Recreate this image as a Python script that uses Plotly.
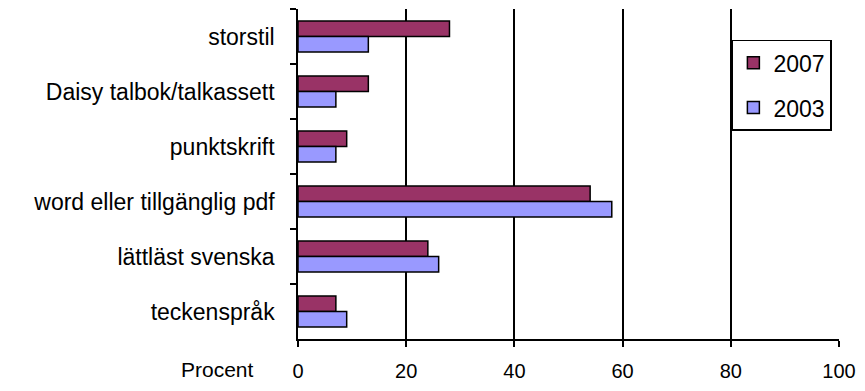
import plotly.graph_objects as go

# Categories, listed top to bottom
categories = [
    "storstil",
    "Daisy talbok/talkassett",
    "punktskrift",
    "word eller tillgänglig pdf",
    "lättläst svenska",
    "teckenspråk",
]
values_2007 = [28, 13, 9, 54, 24, 7]
values_2003 = [13, 7, 7, 58, 26, 9]
x_ticks = [0, 20, 40, 60, 80, 100]

font_family = "Liberation Sans, Arial, sans-serif"

fig = go.Figure()
# The y axis is reversed, so the first trace sits on top within each group
fig.add_trace(go.Bar(
    y=categories, x=values_2007, name="2007", orientation="h",
    marker=dict(color="#993366", line=dict(color="black", width=1.5)),
    legendgroup="a",
))
fig.add_trace(go.Bar(
    y=categories, x=values_2003, name="2003", orientation="h",
    marker=dict(color="#9999FF", line=dict(color="black", width=1.5)),
    legendgroup="b",
))

fig.update_layout(
    width=865, height=391,
    margin=dict(l=298, r=22, t=9, b=49),
    paper_bgcolor="white", plot_bgcolor="white",
    barmode="group", bargap=0.44, bargroupgap=0,
    font=dict(family=font_family, size=20, color="black"),
    showlegend=True,
    legend=dict(
        x=0.802, y=0.907, xanchor="left", yanchor="top",
        bordercolor="black", borderwidth=1.5, bgcolor="white",
        font=dict(size=23), traceorder="grouped", tracegroupgap=12,
    ),
    xaxis=dict(
        range=[0, 100], tickvals=x_ticks,
        showgrid=True, gridcolor="black", gridwidth=1.5,
        showline=True, linecolor="black", linewidth=1.5,
        ticks="outside", ticklen=6, tickcolor="black", tickwidth=1.5,
        ticklabelstandoff=7,
        tickfont=dict(size=20), zeroline=False,
    ),
    yaxis=dict(
        categoryorder="array", categoryarray=categories, autorange="reversed",
        showline=True, linecolor="black", linewidth=1.5,
        ticks="outside", ticklen=6, tickcolor="black", tickwidth=1.5,
        tickson="boundaries", ticklabelstandoff=17,
        tickfont=dict(size=23), showgrid=False,
    ),
    annotations=[dict(
        text="Procent", xref="paper", yref="paper",
        x=-0.148, y=-0.092, xanchor="center", yanchor="middle",
        showarrow=False, font=dict(size=21),
    )],
)

fig.write_html("out.html")
